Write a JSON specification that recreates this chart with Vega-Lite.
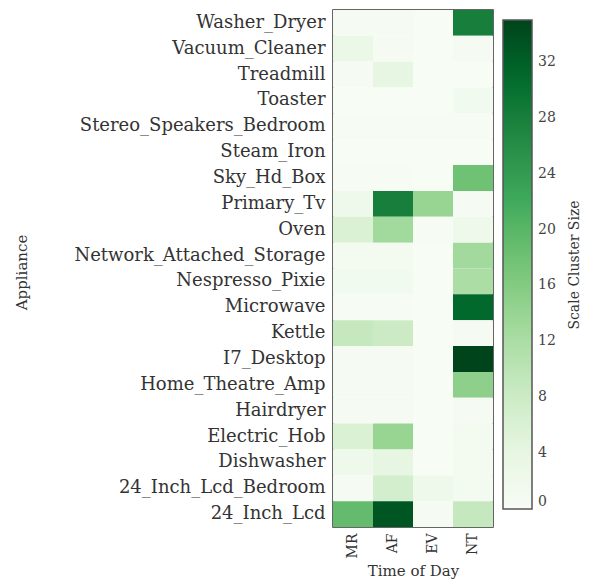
{
  "$schema": "https://vega.github.io/schema/vega-lite/v6.json",
  "autosize": "none",
  "width": 160,
  "height": 517,
  "padding": {"left": 333, "top": 10, "right": 103, "bottom": 61},
  "background": "white",
  "config": {
    "font": "DejaVu Serif",
    "view": {"stroke": "#333", "strokeWidth": 1.5}
  },
  "data": {"values": [
    {"a": "Washer_Dryer", "t": "MR", "v": 0.5}, {"a": "Washer_Dryer", "t": "AF", "v": 0.5}, {"a": "Washer_Dryer", "t": "EV", "v": 0}, {"a": "Washer_Dryer", "t": "NT", "v": 28},
    {"a": "Vacuum_Cleaner", "t": "MR", "v": 3}, {"a": "Vacuum_Cleaner", "t": "AF", "v": 0.5}, {"a": "Vacuum_Cleaner", "t": "EV", "v": 0}, {"a": "Vacuum_Cleaner", "t": "NT", "v": 0.5},
    {"a": "Treadmill", "t": "MR", "v": 0.5}, {"a": "Treadmill", "t": "AF", "v": 4}, {"a": "Treadmill", "t": "EV", "v": 0}, {"a": "Treadmill", "t": "NT", "v": 0},
    {"a": "Toaster", "t": "MR", "v": 0}, {"a": "Toaster", "t": "AF", "v": 0}, {"a": "Toaster", "t": "EV", "v": 0}, {"a": "Toaster", "t": "NT", "v": 1.5},
    {"a": "Stereo_Speakers_Bedroom", "t": "MR", "v": 0.3}, {"a": "Stereo_Speakers_Bedroom", "t": "AF", "v": 0.3}, {"a": "Stereo_Speakers_Bedroom", "t": "EV", "v": 0.2}, {"a": "Stereo_Speakers_Bedroom", "t": "NT", "v": 0.3},
    {"a": "Steam_Iron", "t": "MR", "v": 0}, {"a": "Steam_Iron", "t": "AF", "v": 0}, {"a": "Steam_Iron", "t": "EV", "v": 0}, {"a": "Steam_Iron", "t": "NT", "v": 0},
    {"a": "Sky_Hd_Box", "t": "MR", "v": 0.3}, {"a": "Sky_Hd_Box", "t": "AF", "v": 0.3}, {"a": "Sky_Hd_Box", "t": "EV", "v": 0}, {"a": "Sky_Hd_Box", "t": "NT", "v": 18},
    {"a": "Primary_Tv", "t": "MR", "v": 2}, {"a": "Primary_Tv", "t": "AF", "v": 28}, {"a": "Primary_Tv", "t": "EV", "v": 14}, {"a": "Primary_Tv", "t": "NT", "v": 0.5},
    {"a": "Oven", "t": "MR", "v": 6}, {"a": "Oven", "t": "AF", "v": 13}, {"a": "Oven", "t": "EV", "v": 0.3}, {"a": "Oven", "t": "NT", "v": 2},
    {"a": "Network_Attached_Storage", "t": "MR", "v": 1}, {"a": "Network_Attached_Storage", "t": "AF", "v": 1}, {"a": "Network_Attached_Storage", "t": "EV", "v": 0}, {"a": "Network_Attached_Storage", "t": "NT", "v": 13},
    {"a": "Nespresso_Pixie", "t": "MR", "v": 1.5}, {"a": "Nespresso_Pixie", "t": "AF", "v": 1.5}, {"a": "Nespresso_Pixie", "t": "EV", "v": 0}, {"a": "Nespresso_Pixie", "t": "NT", "v": 12},
    {"a": "Microwave", "t": "MR", "v": 0.3}, {"a": "Microwave", "t": "AF", "v": 0.3}, {"a": "Microwave", "t": "EV", "v": 0}, {"a": "Microwave", "t": "NT", "v": 31},
    {"a": "Kettle", "t": "MR", "v": 9}, {"a": "Kettle", "t": "AF", "v": 8}, {"a": "Kettle", "t": "EV", "v": 0}, {"a": "Kettle", "t": "NT", "v": 0.5},
    {"a": "I7_Desktop", "t": "MR", "v": 0.5}, {"a": "I7_Desktop", "t": "AF", "v": 0.5}, {"a": "I7_Desktop", "t": "EV", "v": 0}, {"a": "I7_Desktop", "t": "NT", "v": 35},
    {"a": "Home_Theatre_Amp", "t": "MR", "v": 0.5}, {"a": "Home_Theatre_Amp", "t": "AF", "v": 0.5}, {"a": "Home_Theatre_Amp", "t": "EV", "v": 0}, {"a": "Home_Theatre_Amp", "t": "NT", "v": 15},
    {"a": "Hairdryer", "t": "MR", "v": 0.5}, {"a": "Hairdryer", "t": "AF", "v": 0.5}, {"a": "Hairdryer", "t": "EV", "v": 0}, {"a": "Hairdryer", "t": "NT", "v": 0.5},
    {"a": "Electric_Hob", "t": "MR", "v": 6}, {"a": "Electric_Hob", "t": "AF", "v": 14}, {"a": "Electric_Hob", "t": "EV", "v": 0}, {"a": "Electric_Hob", "t": "NT", "v": 1},
    {"a": "Dishwasher", "t": "MR", "v": 2}, {"a": "Dishwasher", "t": "AF", "v": 4}, {"a": "Dishwasher", "t": "EV", "v": 0}, {"a": "Dishwasher", "t": "NT", "v": 1},
    {"a": "24_Inch_Lcd_Bedroom", "t": "MR", "v": 0.5}, {"a": "24_Inch_Lcd_Bedroom", "t": "AF", "v": 7}, {"a": "24_Inch_Lcd_Bedroom", "t": "EV", "v": 2}, {"a": "24_Inch_Lcd_Bedroom", "t": "NT", "v": 1},
    {"a": "24_Inch_Lcd", "t": "MR", "v": 19}, {"a": "24_Inch_Lcd", "t": "AF", "v": 33}, {"a": "24_Inch_Lcd", "t": "EV", "v": 0.5}, {"a": "24_Inch_Lcd", "t": "NT", "v": 9}
  ]},
  "mark": {"type": "rect"},
  "encoding": {
    "x": {
      "field": "t", "type": "nominal", "sort": ["MR", "AF", "EV", "NT"],
      "scale": {"paddingInner": 0, "paddingOuter": 0},
      "axis": {"title": "Time of Day", "labelAngle": 270, "labelAlign": "right", "labelBaseline": "middle", "labelFontSize": 14, "labelColor": "#333", "ticks": false, "domain": false, "labelPadding": 6, "titleFontSize": 15, "titleFontWeight": "normal", "titleColor": "#333", "titlePadding": 6}
    },
    "y": {
      "field": "a", "type": "nominal", "sort": null,
      "scale": {"paddingInner": 0, "paddingOuter": 0},
      "axis": {"title": "Appliance", "labelFontSize": 18, "labelLimit": 0, "labelColor": "#333", "ticks": false, "domain": false, "labelPadding": 8, "titleFontSize": 15, "titleFontWeight": "normal", "titleColor": "#333", "titleX": -312, "titleY": 262, "titleAngle": 270, "titleAlign": "center", "titleBaseline": "middle"}
    },
    "color": {
      "field": "v", "type": "quantitative",
      "scale": {"domain": [0, 35], "range": ["#f7fcf5", "#e5f5e0", "#c7e9c0", "#a1d99b", "#74c476", "#41ab5d", "#238b45", "#006d2c", "#00441b"]},
      "legend": {
        "title": "Scale Cluster Size", "orient": "none", "legendX": 170, "legendY": 10,
        "direction": "vertical", "gradientLength": 489, "gradientThickness": 29,
        "gradientStrokeColor": "#555", "gradientStrokeWidth": 1.5,
        "values": [0, 4, 8, 12, 16, 20, 24, 28, 32],
        "labelFontSize": 14, "labelColor": "#444", "labelOffset": 6,
        "titleOrient": "right", "titleAnchor": "middle",
        "titleFontSize": 14, "titleFontWeight": "normal", "titleColor": "#333", "titlePadding": 12,
        "encode": {"title": {"update": {"angle": {"value": 270}, "baseline": {"value": "top"}}}}
      }
    }
  }
}
